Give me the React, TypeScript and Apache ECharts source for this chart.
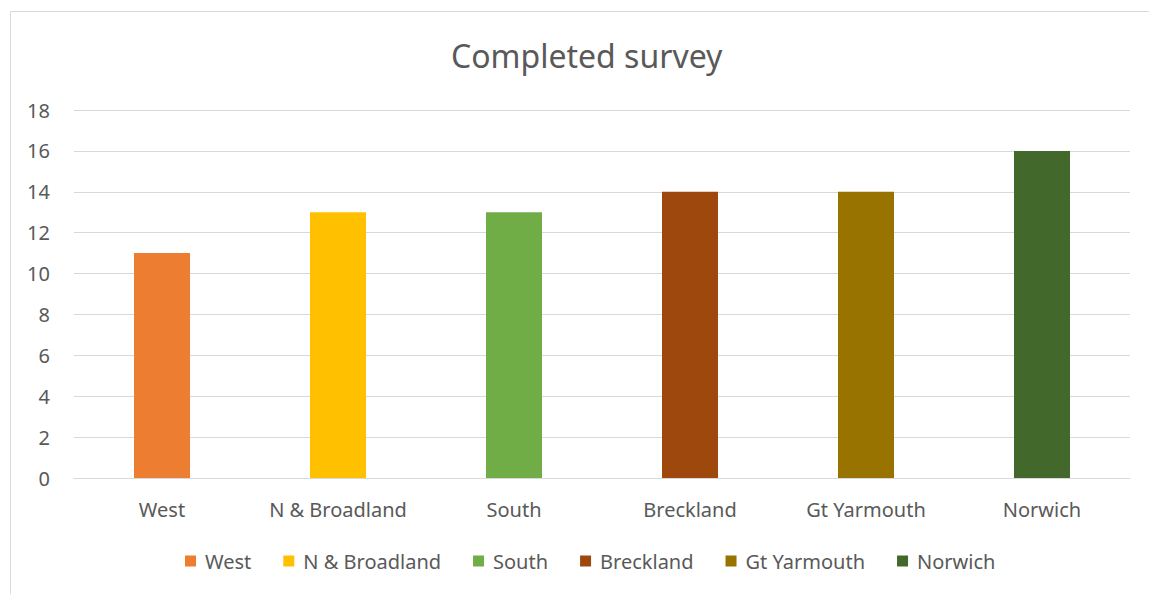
import React, { useEffect, useRef } from "react";
import * as echarts from "echarts";

const categories = ["West", "N & Broadland", "South", "Breckland", "Gt Yarmouth", "Norwich"];
const values = [11, 13, 13, 14, 14, 16];
const colors = ["#ED7D31", "#FFC000", "#70AD47", "#9E480E", "#997300", "#43682B"];
const yTicks = [0, 2, 4, 6, 8, 10, 12, 14, 16, 18];

const FONT = "'Noto Sans', 'Open Sans', sans-serif";

export default function App() {
  const ref = useRef<HTMLDivElement>(null);
  useEffect(() => {
    if (!ref.current) return;
    const chart = echarts.init(ref.current, null, { renderer: "svg" });
    const series = categories.map((name, i) => ({
      name,
      type: "bar",
      barWidth: 56,
      barGap: "-100%",
      itemStyle: { color: colors[i] },
      data: categories.map((_, j) => (j === i ? values[i] : "-")),
    }));
    chart.setOption({
      animation: false,
      textStyle: { fontFamily: FONT },
      title: {
        text: "Completed survey",
        left: 446,
        top: 34,
        textStyle: { fontFamily: FONT, fontSize: 32, fontWeight: "normal", color: "#595959" },
      },
      graphic: [
        {
          type: "rect",
          shape: { x: 10.5, y: 11.5, width: 1300, height: 800 },
          style: { fill: "none", stroke: "#d9d9d9", lineWidth: 1 },
          silent: true,
        },
      ],
      legend: {
        bottom: 18,
        left: 180,
        itemWidth: 11,
        itemHeight: 11,
        itemGap: 32,
        icon: "rect",
        textStyle: { fontFamily: FONT, fontSize: 20, color: "#595959", padding: [0, 0, 0, 4] },
        data: categories,
      },
      grid: { left: 74, right: 19, top: 110, bottom: 116, containLabel: false },
      xAxis: {
        type: "category",
        data: categories,
        axisLine: { show: true, lineStyle: { color: "#d9d9d9", width: 1 } },
        axisTick: { show: false },
        axisLabel: { fontFamily: FONT, fontSize: 20, color: "#595959", margin: 21, interval: 0 },
      },
      yAxis: {
        type: "value",
        min: 0,
        max: 18,
        interval: 2,
        axisLine: { show: false },
        axisTick: { show: false },
        axisLabel: {
          fontFamily: FONT,
          fontSize: 20,
          color: "#595959",
          margin: 24,
          formatter: (v: number) => (yTicks.includes(v) ? String(v) : ""),
        },
        splitLine: { lineStyle: { color: "#d9d9d9", width: 1 } },
      },
      series,
    });
    return () => chart.dispose();
  }, []);
  return (
    <div style={{ position: "fixed", left: 0, top: 0, width: 1149, height: 594, overflow: "hidden", background: "#fff" }}>
      <div ref={ref} style={{ width: 1149, height: 594 }} />
    </div>
  );
}
